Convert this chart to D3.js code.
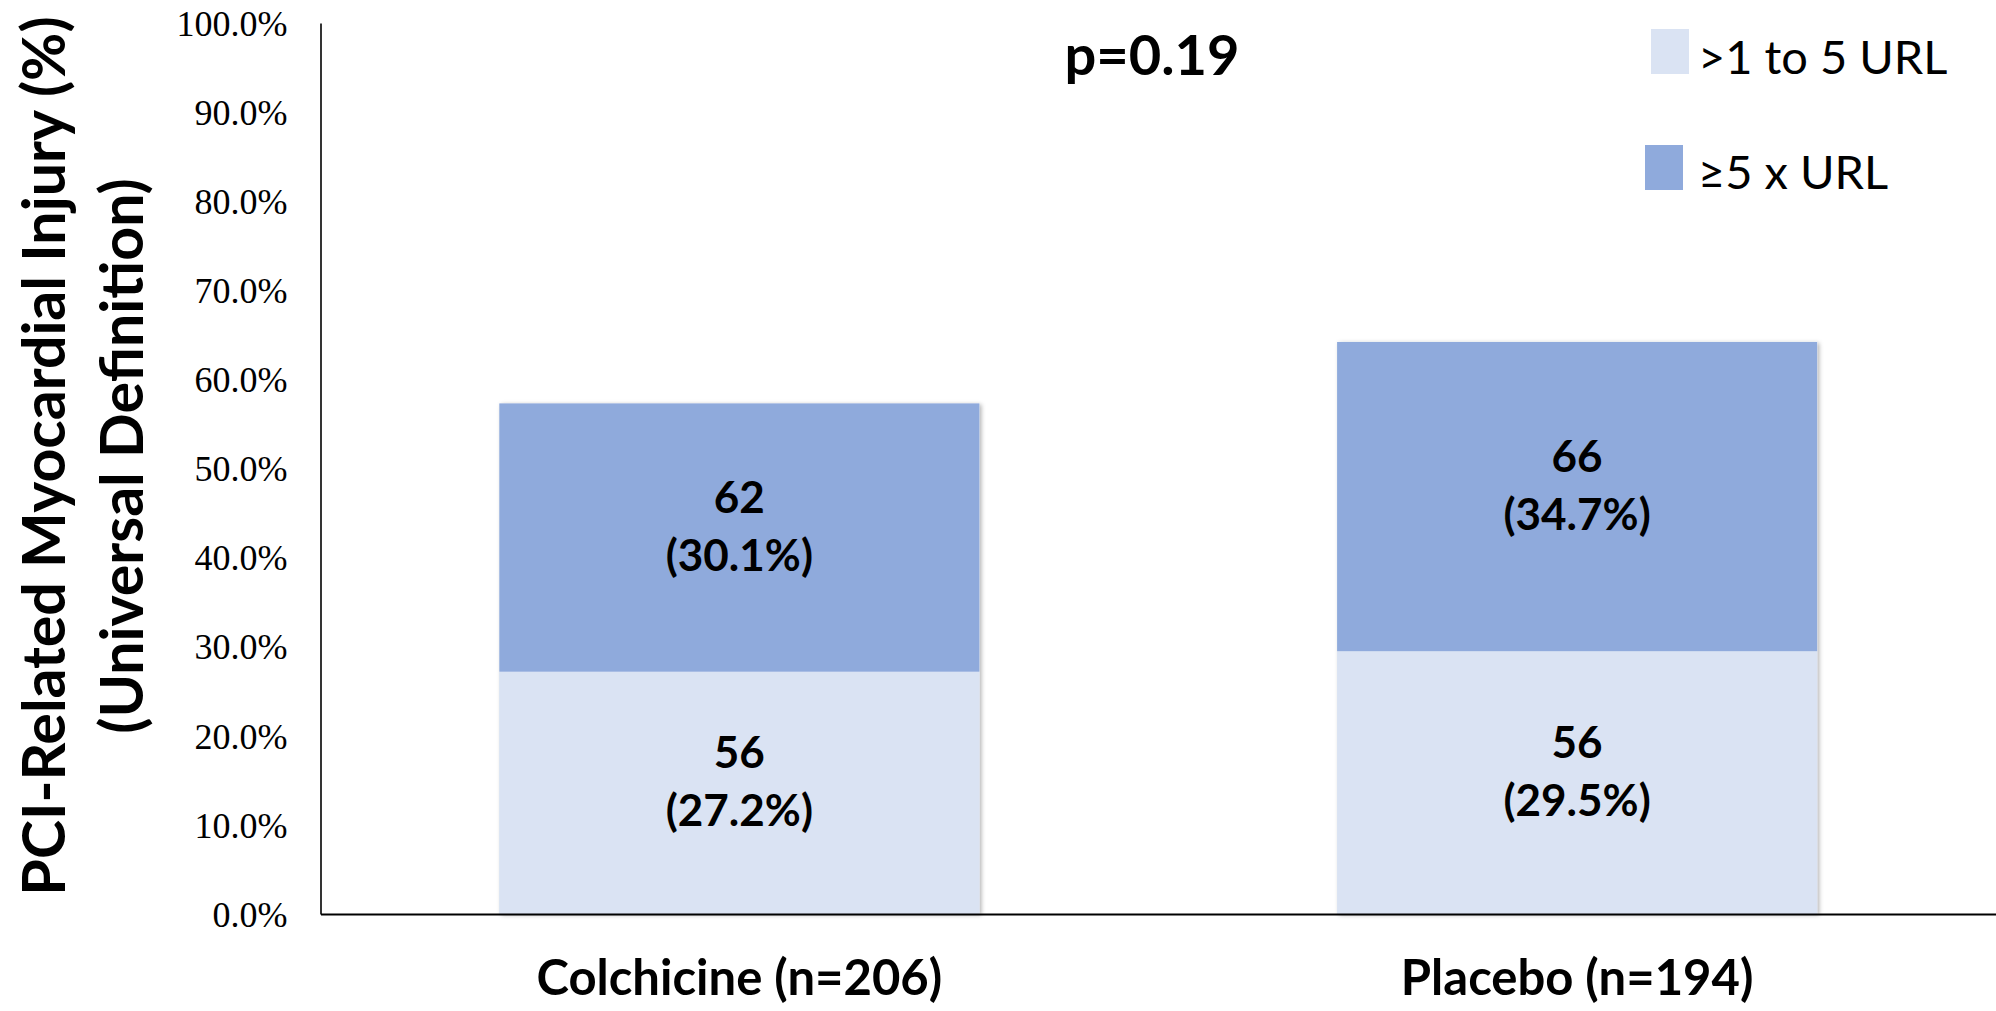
<!DOCTYPE html>
<html>
<head>
<meta charset="utf-8">
<script src="https://cdn.jsdelivr.net/npm/d3@7"></script>
<style>
  html, body { margin: 0; padding: 0; background: #ffffff; }
  svg { display: block; }
</style>
</head>
<body>
<svg id="chart" width="1996" height="1011"></svg>
<script>
// Groups along the x axis
const categories = ["Colchicine (n=206)", "Placebo (n=194)"];

// Series (stack order: bottom first)
const seriesNames = [">1 to 5 URL", "\u22655 x URL"];
const seriesColors = ["#DAE3F3", "#8FAADC"];

// Patient counts per series
const countsLow = [56, 56];
const countsHigh = [62, 66];

// Percentages per series
const pctLow = [27.2, 29.5];
const pctHigh = [30.1, 34.7];

// Y axis ticks (percent)
const yTicks = [0, 10, 20, 30, 40, 50, 60, 70, 80, 90, 100];

const pValueText = "p=0.19";
const yTitleLines = ["PCI-Related Myocardial Injury (%)", "(Universal Definition)"];

const W = 1996, H = 1011;
const plot = { left: 320.5, right: 1996, top: 23, bottom: 914 };

const svg = d3.select("#chart");

// Soft shadow used by the bars
const defs = svg.append("defs");
const f = defs.append("filter").attr("id", "barShadow")
  .attr("x", "-5%").attr("y", "-5%").attr("width", "110%").attr("height", "110%");
f.append("feDropShadow").attr("dx", 2).attr("dy", 1).attr("stdDeviation", 2)
  .attr("flood-color", "#000").attr("flood-opacity", 0.3);

const x = d3.scaleBand()
  .domain(categories)
  .range([plot.left, plot.right])
  .paddingInner(0.427)
  .paddingOuter(0.2135);

const y = d3.scaleLinear().domain([0, 100]).range([plot.bottom, plot.top]);

// Build rows for stacking
const rows = categories.map((c, i) => ({
  category: c,
  low: pctLow[i], high: pctHigh[i],
  lowN: countsLow[i], highN: countsHigh[i]
}));
const keys = ["low", "high"];
const stacked = d3.stack().keys(keys)(rows);

// Whole-bar shadows underneath the segments
svg.append("g").attr("class", "bar-shadows")
  .selectAll("rect").data(rows).join("rect")
  .attr("x", d => x(d.category))
  .attr("width", x.bandwidth())
  .attr("y", d => y(d.low + d.high))
  .attr("height", d => y(0) - y(d.low + d.high))
  .attr("fill", "#DAE3F3")
  .attr("filter", "url(#barShadow)");

// Stacked segments
const layers = svg.append("g").attr("class", "bars").selectAll("g.layer")
  .data(stacked).join("g").attr("class", "layer")
  .attr("fill", (d, i) => seriesColors[i]);

layers.selectAll("rect").data(d => d).join("rect")
  .attr("x", d => x(d.data.category))
  .attr("width", x.bandwidth())
  .attr("y", d => y(d[1]))
  .attr("height", d => y(d[0]) - y(d[1]));

// Segment labels: count on the first line, percentage below
const labelFont = 44;
const lineGap = 58;
stacked.forEach((layer, li) => {
  const key = keys[li];
  const g = svg.append("g").attr("class", "seg-labels");
  layer.forEach(seg => {
    const cx = x(seg.data.category) + x.bandwidth() / 2;
    const cy = (y(seg[0]) + y(seg[1])) / 2 - 11;
    const n = key === "low" ? seg.data.lowN : seg.data.highN;
    const p = key === "low" ? seg.data.low : seg.data.high;
    const t = g.append("text")
      .attr("text-anchor", "middle")
      .attr("font-family", "Lato, 'Open Sans', sans-serif")
      .attr("font-weight", 700)
      .attr("font-size", labelFont)
      .attr("fill", "#000");
    t.append("tspan").attr("x", cx).attr("y", cy - lineGap / 2 + 15).text(n);
    t.append("tspan").attr("x", cx).attr("y", cy + lineGap / 2 + 15).text("(" + p.toFixed(1) + "%)");
  });
});

// Y axis
const yAxis = svg.append("g")
  .attr("transform", `translate(${plot.left},0)`)
  .call(d3.axisLeft(y).tickValues(yTicks).tickSize(0).tickSizeOuter(0).tickPadding(33)
    .tickFormat(d => d.toFixed(1) + "%"));
yAxis.select(".domain").attr("stroke", "#000").attr("stroke-width", 1.6);
yAxis.selectAll("text")
  .attr("font-family", "'Liberation Serif', 'Times New Roman', serif")
  .attr("font-size", 36)
  .attr("fill", "#000")
  .attr("dy", "0.34em");

// X axis
const xAxis = svg.append("g")
  .attr("transform", `translate(0,${plot.bottom})`)
  .call(d3.axisBottom(x).tickSize(0).tickSizeOuter(0).tickPadding(46));
xAxis.select(".domain").attr("stroke", "#000").attr("stroke-width", 2.2);
xAxis.selectAll("text")
  .attr("font-family", "Lato, 'Open Sans', sans-serif")
  .attr("font-weight", 700)
  .attr("font-size", 49)
  .attr("fill", "#000");

// Y axis title (two lines, rotated)
const titleG = svg.append("g").attr("transform", "translate(0,456) rotate(-90)");
[65, 143].forEach((bx, i) => {
  titleG.append("text")
    .attr("x", 0).attr("y", bx)
    .attr("text-anchor", "middle")
    .attr("font-family", "Lato, 'Open Sans', sans-serif")
    .attr("font-weight", 700)
    .attr("font-size", 59)
    .attr("fill", "#000")
    .text(yTitleLines[i]);
});

// p-value annotation
svg.append("text")
  .attr("x", 1152).attr("y", 75)
  .attr("text-anchor", "middle")
  .attr("font-family", "Lato, 'Open Sans', sans-serif")
  .attr("font-weight", 700)
  .attr("font-size", 56)
  .attr("fill", "#000")
  .text(pValueText);

// Legend
const legend = svg.append("g").attr("class", "legend");
const legendRows = [
  { name: seriesNames[0], color: seriesColors[0], sx: 1651, sy: 29, ty: 74 },
  { name: seriesNames[1], color: seriesColors[1], sx: 1645, sy: 145, ty: 189 }
];
legendRows.forEach(r => {
  legend.append("rect").attr("x", r.sx).attr("y", r.sy)
    .attr("width", 38).attr("height", 45).attr("fill", r.color);
  legend.append("text").attr("x", 1698).attr("y", r.ty)
    .attr("font-family", "Lato, 'Open Sans', sans-serif")
    .attr("font-size", 47)
    .attr("fill", "#000")
    .text(r.name);
});
</script>
</body>
</html>
